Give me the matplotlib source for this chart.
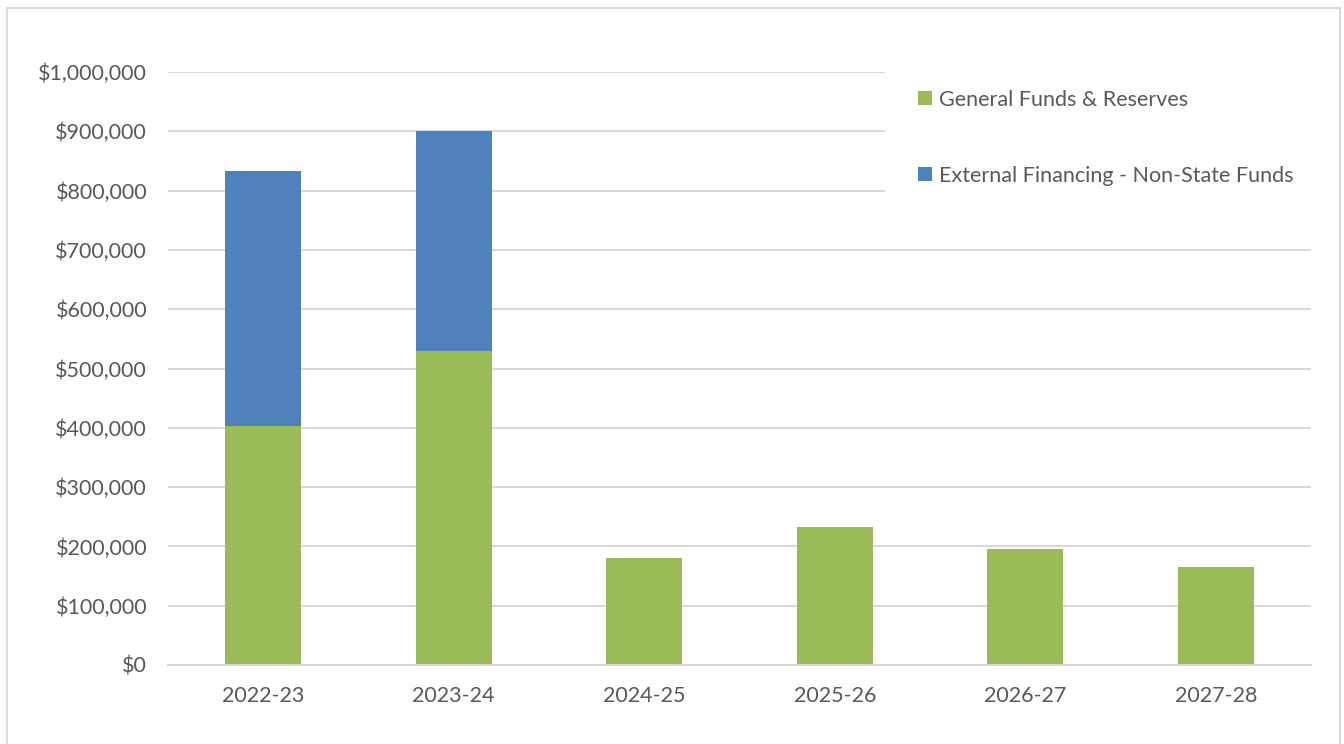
import matplotlib
matplotlib.use("Agg")
import matplotlib.pyplot as plt
from matplotlib.patches import Rectangle
from matplotlib.ticker import FuncFormatter

years = ["2022-23", "2023-24", "2024-25", "2025-26", "2026-27", "2027-28"]
general_funds = [403000, 530000, 180000, 233000, 196000, 165000]
external_fin = [430000, 370000, 0, 0, 0, 0]

green = "#9BBB59"
blue = "#4F81BD"
text_col = "#595959"
grid_col = "#D9D9D9"
fs = 15.5

plt.rcParams["font.family"] = ["Lato", "DejaVu Sans"]

fig = plt.figure(figsize=(13.44, 7.44), dpi=100)
ax = fig.add_axes([0.125, 0.1062, 0.8504, 0.797])

# outer chart border
fig.patches.append(Rectangle((7 / 1344, -0.01), 1333 / 1344, 1 - 8 / 744 + 0.01,
                             transform=fig.transFigure, fill=False,
                             edgecolor=grid_col, linewidth=1.5))

x = range(len(years))
ax.bar(x, general_funds, width=0.4, color=green, label="General Funds & Reserves", zorder=2)
ax.bar(x, external_fin, width=0.4, bottom=general_funds, color=blue,
       label="External Financing - Non-State Funds", zorder=2)

ax.set_xlim(-0.5, len(years) - 0.5)
ax.set_ylim(0, 1000000)
ax.set_yticks(range(0, 1000001, 100000))
ax.yaxis.set_major_formatter(FuncFormatter(lambda v, p: "${:,.0f}".format(v)))
ax.set_xticks(list(x))
ax.set_xticklabels(years)

ax.grid(axis="y", color=grid_col, linewidth=1.5, zorder=0)
ax.set_axisbelow(True)
for s in ["top", "right", "left"]:
    ax.spines[s].set_visible(False)
ax.spines["bottom"].set_color(grid_col)
ax.spines["bottom"].set_linewidth(1.5)
ax.tick_params(axis="both", length=0, labelsize=fs, colors=text_col)
ax.tick_params(axis="x", pad=15)
ax.tick_params(axis="y", pad=15)

# white legend area that hides the top gridlines
ax.add_patch(Rectangle((0.627, 0.76), 0.38, 0.3, transform=ax.transAxes,
                       facecolor="white", edgecolor="none", zorder=1, clip_on=False))

leg = ax.legend(loc="upper left", bbox_to_anchor=(0.656, 0.97), frameon=False,
                fontsize=fs, labelspacing=2.6, handlelength=0.65, handleheight=0.65,
                handletextpad=0.35, borderpad=0.0, borderaxespad=0.0)
for t in leg.get_texts():
    t.set_color(text_col)

fig.savefig("out.png", dpi=100)
